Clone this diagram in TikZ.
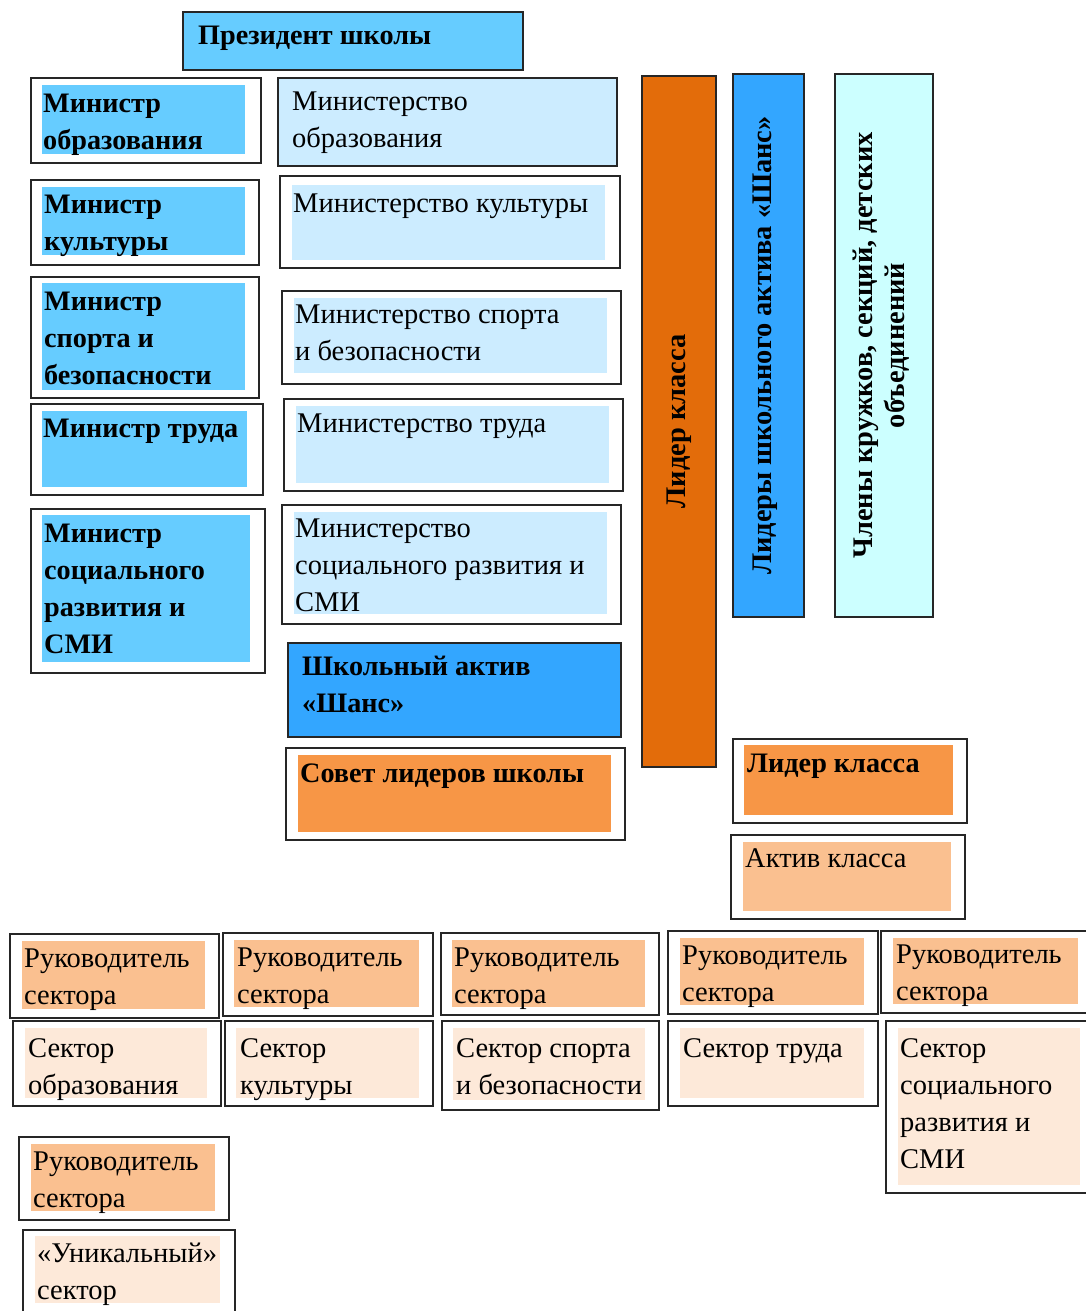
\documentclass[tikz,border=0pt]{standalone}
\usepackage{fontspec}
\setmainfont{Liberation Serif}
\usetikzlibrary{fit}
\definecolor{mblue}{HTML}{66CCFF}
\definecolor{dlight}{HTML}{CCECFF}
\definecolor{sblue}{HTML}{33A6FF}
\definecolor{dorange}{HTML}{E36C0A}
\definecolor{orange}{HTML}{F79646}
\definecolor{lorange}{HTML}{FAC090}
\definecolor{porange}{HTML}{FDE9D9}
\definecolor{cyanl}{HTML}{CCFFFF}
\tikzset{
  obox/.style={draw=black!85, line width=1.4pt, fill=white, inner sep=0pt},
  fbox/.style={draw=black!85, line width=1.4pt, inner sep=0pt},
  ibox/.style={draw=none, inner sep=0pt},
  rt/.style={anchor=north west, inner sep=0pt, yshift=25.9pt, align=left,
    font=\fontsize{28.5}{37}\selectfont},
  bt/.style={rt, font=\fontsize{28.2}{37}\selectfont\bfseries},
  vt/.style={rotate=90, inner sep=0pt, align=center,
    font=\fontsize{28.4}{32}\selectfont\bfseries}
}
\begin{document}
\begin{tikzpicture}[x=1pt,y=-1pt]
\useasboundingbox (0,0) rectangle (1085,1311);
% President
\node[fbox, fill=mblue, fit={(183,12)(523,70)}] (p) {};
\node[bt] (pt) at (198,44) {\strut Президент школы};
% Ministers
\node[obox, fit={(31,78)(261,163)}] (m1o) {};
\node[ibox, fill=mblue, fit={(42,85)(245,154)}] (m1) {};
\node[bt] (m1t) at (43,112) {\strut Министр\\образования};
\node[obox, fit={(31,180)(259,265)}] (m2o) {};
\node[ibox, fill=mblue, fit={(42,187)(245,255)}] (m2) {};
\node[bt] (m2t) at (44,213) {\strut Министр\\культуры};
\node[obox, fit={(31,277)(259,398)}] (m3o) {};
\node[ibox, fill=mblue, fit={(42,283)(245,390)}] (m3) {};
\node[bt] (m3t) at (44,310) {\strut Министр\\спорта и\\безопасности};
\node[obox, fit={(31,404)(263,495)}] (m4o) {};
\node[ibox, fill=mblue, fit={(42,411)(247,487)}] (m4) {};
\node[bt] (m4t) at (43,437) {\strut Министр труда};
\node[obox, fit={(31,509)(265,673)}] (m5o) {};
\node[ibox, fill=mblue, fit={(42,515)(250,662)}] (m5) {};
\node[bt] (m5t) at (44,542) {\strut Министр\\социального\\развития и\\СМИ};
% Ministries
\node[fbox, fill=dlight, fit={(278,78)(617,166)}] (d1) {};
\node[rt] (d1t) at (292,110) {\strut Министерство\\образования};
\node[obox, fit={(280,176)(620,268)}] (d2o) {};
\node[ibox, fill=dlight, fit={(292,185)(605,260)}] (d2) {};
\node[rt] (d2t) at (293,212) {\strut Министерство культуры};
\node[obox, fit={(282,291)(621,384)}] (d3o) {};
\node[ibox, fill=dlight, fit={(294,298)(607,373)}] (d3) {};
\node[rt] (d3t) at (295,323) {\strut Министерство спорта\\и безопасности};
\node[obox, fit={(284,399)(623,491)}] (d4o) {};
\node[ibox, fill=dlight, fit={(296,406)(609,483)}] (d4) {};
\node[rt] (d4t) at (297,432) {\strut Министерство труда};
\node[obox, fit={(282,505)(621,624)}] (d5o) {};
\node[ibox, fill=dlight, fit={(294,512)(607,614)}] (d5) {};
\node[rt] (d5t) at (295,537) {\strut Министерство\\социального развития и\\СМИ};
% School active and council
\node[fbox, fill=sblue, fit={(288,643)(621,737)}] (sa) {};
\node[bt] (sat) at (302,675) {\strut Школьный актив\\«Шанс»};
\node[obox, fit={(286,748)(625,840)}] (slo) {};
\node[ibox, fill=orange, fit={(298,755)(611,832)}] (sl) {};
\node[bt] (slt) at (300,782) {\strut Совет лидеров школы};
% Vertical columns
\node[fbox, fill=dorange, fit={(642,76)(716,767)}] (v1) {};
\node[vt] (v1t) at (v1.center) {Лидер класса};
\node[fbox, fill=sblue, fit={(733,74)(804,617)}] (v2) {};
\node[vt] (v2t) at ([xshift=-3pt]v2.center) {Лидеры школьного актива «Шанс»};
\node[fbox, fill=cyanl, fit={(835,74)(933,617)}] (v3) {};
\node[vt] (v3t) at ([xshift=-3pt]v3.center) {Члены кружков, секций, детских\\объединений};
% Class
\node[obox, fit={(733,739)(967,823)}] (lko) {};
\node[ibox, fill=orange, fit={(744,745)(953,815)}] (lk) {};
\node[bt] (lkt) at (747,772) {\strut Лидер класса};
\node[obox, fit={(731,835)(965,919)}] (ako) {};
\node[ibox, fill=lorange, fit={(743,842)(951,911)}] (ak) {};
\node[rt] (akt) at (745,867) {\strut Актив класса};
% Sector heads
\node[obox, fit={(10,934)(219,1018)}] (r1o) {};
\node[ibox, fill=lorange, fit={(22,941)(205,1009)}] (r1) {};
\node[rt] (r1t) at (24,967) {\strut Руководитель\\сектора};
\node[obox, fit={(223,933)(433,1016)}] (r2o) {};
\node[ibox, fill=lorange, fit={(234,940)(419,1007)}] (r2) {};
\node[rt] (r2t) at (237,966) {\strut Руководитель\\сектора};
\node[obox, fit={(441,933)(659,1015)}] (r3o) {};
\node[ibox, fill=lorange, fit={(452,940)(645,1007)}] (r3) {};
\node[rt] (r3t) at (454,966) {\strut Руководитель\\сектора};
\node[obox, fit={(668,931)(878,1014)}] (r4o) {};
\node[ibox, fill=lorange, fit={(680,938)(864,1005)}] (r4) {};
\node[rt] (r4t) at (682,964) {\strut Руководитель\\сектора};
\node[obox, fit={(881,931)(1092,1013)}] (r5o) {};
\node[ibox, fill=lorange, fit={(893,938)(1078,1004)}] (r5) {};
\node[rt] (r5t) at (896,963) {\strut Руководитель\\сектора};
% Sectors
\node[obox, fit={(13,1021)(221,1106)}] (s1o) {};
\node[ibox, fill=porange, fit={(25,1028)(207,1098)}] (s1) {};
\node[rt] (s1t) at (28,1057) {\strut Сектор\\образования};
\node[obox, fit={(225,1021)(433,1106)}] (s2o) {};
\node[ibox, fill=porange, fit={(236,1028)(419,1098)}] (s2) {};
\node[rt] (s2t) at (240,1057) {\strut Сектор\\культуры};
\node[obox, fit={(442,1021)(659,1110)}] (s3o) {};
\node[ibox, fill=porange, fit={(453,1028)(645,1100)}] (s3) {};
\node[rt] (s3t) at (456,1057) {\strut Сектор спорта\\и безопасности};
\node[obox, fit={(668,1021)(878,1106)}] (s4o) {};
\node[ibox, fill=porange, fit={(680,1028)(864,1098)}] (s4) {};
\node[rt] (s4t) at (683,1057) {\strut Сектор труда};
\node[obox, fit={(886,1021)(1092,1193)}] (s5o) {};
\node[ibox, fill=porange, fit={(898,1028)(1080,1185)}] (s5) {};
\node[rt] (s5t) at (900,1057) {\strut Сектор\\социального\\развития и\\СМИ};
% Unique sector
\node[obox, fit={(19,1137)(229,1220)}] (u1o) {};
\node[ibox, fill=lorange, fit={(31,1144)(215,1211)}] (u1) {};
\node[rt] (u1t) at (33,1170) {\strut Руководитель\\сектора};
\node[obox, fit={(23,1230)(235,1322)}] (u2o) {};
\node[ibox, fill=porange, fit={(35,1236)(220,1303)}] (u2) {};
\node[rt] (u2t) at (37,1262) {\strut «Уникальный»\\сектор};
\end{tikzpicture}
\end{document}
